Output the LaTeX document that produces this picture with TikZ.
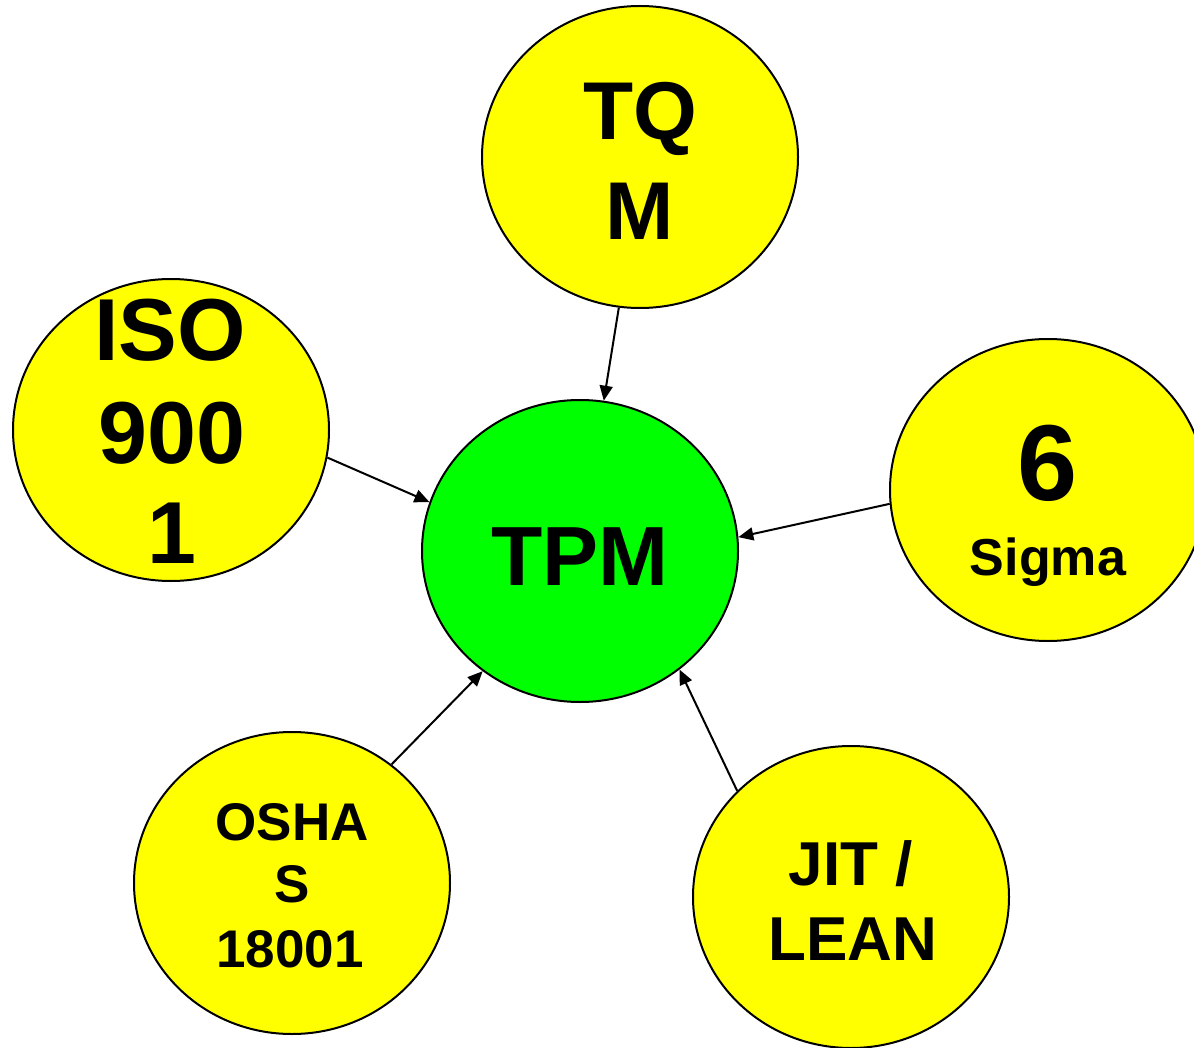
\documentclass[tikz,border=0pt]{standalone}
\usepackage{fontspec}
\setmainfont{Liberation Sans}
\usetikzlibrary{shapes.geometric,arrows.meta}
\definecolor{bubyellow}{RGB}{255,255,0}
\definecolor{bubgreen}{RGB}{0,255,0}
\begin{document}
\begin{tikzpicture}[x=0.5pt,y=-0.5pt,
  bubble/.style={ellipse,draw=black,line width=1pt,inner sep=0pt,minimum width=158pt,minimum height=151pt},
  yel/.style={bubble,fill=bubyellow},
  grn/.style={bubble,fill=bubgreen},
  lbl/.style={anchor=base,inner sep=0pt,font=\bfseries},
  link/.style={line width=1pt,-{Triangle[length=7.5pt,width=6.5pt]}}]
\useasboundingbox (0,0) rectangle (1194,1048);
\clip (0,0) rectangle (1194,1048);
\node[yel] (tqm) at (640,157) {};
\node[yel] (iso) at (171,430) {};
\node[grn] (tpm) at (580,551) {};
\node[yel] (six) at (1048,490) {};
\node[yel] (osha) at (292,883) {};
\node[yel] (jit) at (851,897) {};
% texts
\node[lbl,font=\fontsize{41pt}{41pt}\bfseries] (tqm1) at (640,140) {TQ};
\node[lbl,font=\fontsize{41pt}{41pt}\bfseries] (tqm2) at (640,240) {M};
\node[lbl,font=\fontsize{44pt}{44pt}\bfseries] (iso1) at (170,360) {ISO};
\node[lbl,font=\fontsize{44pt}{44pt}\bfseries] (iso2) at (172,463) {900};
\node[lbl,font=\fontsize{44pt}{44pt}\bfseries] (iso3) at (172,563) {1};
\node[lbl,font=\fontsize{42pt}{42pt}\bfseries] (tpmt) at (580,585) {TPM};
\node[lbl,font=\fontsize{54pt}{54pt}\bfseries] (six1) at (1048,500) {6};
\node[lbl,font=\fontsize{26pt}{26pt}\bfseries] (six2) at (1048,575) {Sigma};
\node[lbl,font=\fontsize{26.5pt}{26.5pt}\bfseries] (osha1) at (292,840) {OSHA};
\node[lbl,font=\fontsize{26.5pt}{26.5pt}\bfseries] (osha2) at (292,902) {S};
\node[lbl,font=\fontsize{26.5pt}{26.5pt}\bfseries] (osha3) at (290,967) {18001};
\node[lbl,font=\fontsize{31pt}{31pt}\bfseries] (jit1) at (851,885) {JIT /};
\node[lbl,font=\fontsize{31pt}{31pt}\bfseries] (jit2) at (853,960) {LEAN};
% connectors
\draw[link] (tqm.-98.2) -- (tpm.81);
\draw[link] (iso.-10.7) -- (tpm.162.3);
\draw[link] (six.185.7) -- (tpm.5);
\draw[link] (osha.50.5) -- (tpm.231);
\draw[link] (jit.137.1) -- (tpm.-50.4);
\end{tikzpicture}
\end{document}
